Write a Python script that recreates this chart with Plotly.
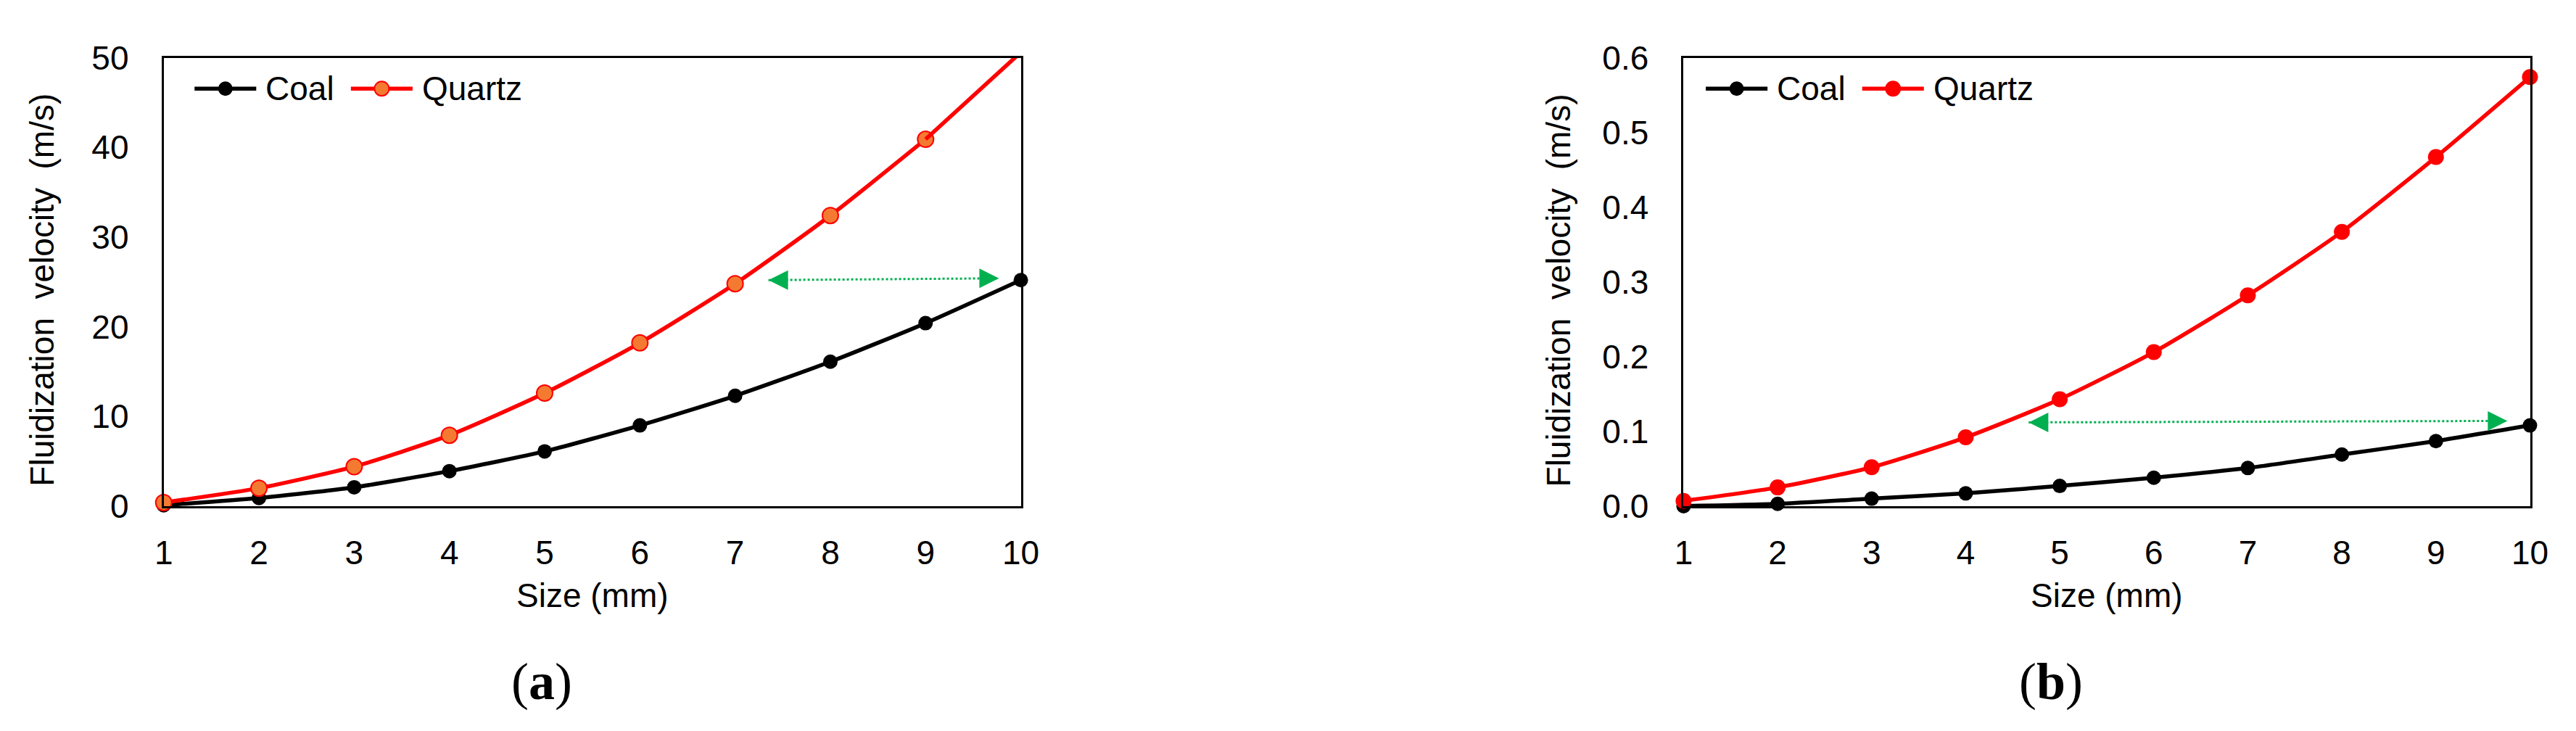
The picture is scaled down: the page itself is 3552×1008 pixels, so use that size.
import plotly.graph_objects as go

# particle size (mm)
sizes = [1, 2, 3, 4, 5, 6, 7, 8, 9, 10]

# (a) fluidization velocity, m/s
coal_a = [0.1, 0.9, 2.1, 3.9, 6.1, 9.0, 12.3, 16.1, 20.4, 25.2]
quartz_a = [0.4, 2.0, 4.4, 7.9, 12.6, 18.2, 24.8, 32.4, 40.9, 50.6]

# (b) fluidization velocity, m/s
coal_b = [0.0, 0.003, 0.010, 0.017, 0.027, 0.038, 0.051, 0.069, 0.087, 0.108]
quartz_b = [0.007, 0.025, 0.052, 0.092, 0.143, 0.206, 0.282, 0.367, 0.467, 0.574]

# green double arrows (start, end)
arrow_a_x = [7.35, 9.77]
arrow_a_y = [25.2, 25.4]
arrow_b_x = [4.67, 9.76]
arrow_b_y = [0.112, 0.114]

W, H = 3552, 1008
SANS = "Liberation Sans, Arial, sans-serif"
SERIF = "Liberation Serif, Times New Roman, serif"
GREEN = "#00B050"
RED = "#FF0000"
ORANGE = "#F47A32"


def px(x):
    return x / W


def py(y):
    return 1 - y / H


fig = go.Figure()

# panel (a)
fig.add_trace(go.Scatter(
    x=sizes, y=coal_a, name="Coal", mode="lines+markers",
    line=dict(color="black", width=5.5, shape="spline", smoothing=0.6),
    marker=dict(size=20, color="black"), cliponaxis=False,
    xaxis="x", yaxis="y", showlegend=False,
))
fig.add_trace(go.Scatter(
    x=sizes[:9], y=quartz_a[:9], name="Quartz", mode="lines+markers",
    line=dict(color=RED, width=5.5, shape="spline", smoothing=0.6),
    marker=dict(size=22, color=ORANGE, line=dict(color=RED, width=2)),
    cliponaxis=False, xaxis="x", yaxis="y", showlegend=False,
))
fig.add_trace(go.Scatter(
    x=sizes[8:], y=quartz_a[8:], mode="lines", showlegend=False,
    line=dict(color=RED, width=5.5), xaxis="x", yaxis="y",
))
fig.add_trace(go.Scatter(
    x=arrow_a_x, y=arrow_a_y, mode="lines", showlegend=False,
    line=dict(color=GREEN, width=3, dash="dot"), xaxis="x", yaxis="y",
))

# panel (b)
fig.add_trace(go.Scatter(
    x=sizes, y=coal_b, name="Coal", mode="lines+markers",
    line=dict(color="black", width=5.5, shape="spline", smoothing=0.6),
    marker=dict(size=20, color="black"), cliponaxis=False,
    xaxis="x2", yaxis="y2", showlegend=False,
))
fig.add_trace(go.Scatter(
    x=sizes, y=quartz_b, name="Quartz", mode="lines+markers",
    line=dict(color=RED, width=5.5, shape="spline", smoothing=0.6),
    marker=dict(size=22, color=RED), cliponaxis=False,
    xaxis="x2", yaxis="y2", showlegend=False,
))
fig.add_trace(go.Scatter(
    x=arrow_b_x, y=arrow_b_y, mode="lines", showlegend=False,
    line=dict(color=GREEN, width=3, dash="dot"), xaxis="x2", yaxis="y2",
))

axis_style = dict(
    showline=True, mirror=True, linewidth=3, linecolor="black",
    showgrid=False, zeroline=False, ticks="outside",
    tickcolor="rgba(0,0,0,0)", tickfont=dict(family=SANS, size=46, color="black"),
)

y_dom = [py(700), py(48)]
fig.update_layout(
    width=W, height=H,
    margin=dict(l=0, r=0, t=0, b=0),
    paper_bgcolor="white", plot_bgcolor="white",
    font=dict(family=SANS, color="black"),
    showlegend=False,
    xaxis=dict(domain=[px(207), px(1402)], range=[1, 10], dtick=1, ticklen=22, anchor="y", **axis_style),
    yaxis=dict(domain=y_dom, range=[0, 50], dtick=10, ticklen=36, anchor="x", **axis_style),
    xaxis2=dict(domain=[px(2326), px(3506)], range=[1, 10], dtick=1, ticklen=22, anchor="y2", **axis_style),
    yaxis2=dict(domain=y_dom, range=[0, 0.6], dtick=0.1, tickformat=".1f", ticklen=36, anchor="x2", **axis_style),
)

notes = []
shapes = []

# arrowheads at both ends of the green dotted arrows
for xs, ys, xr, yr in [(arrow_a_x, arrow_a_y, "x", "y"), (arrow_b_x, arrow_b_y, "x2", "y2")]:
    for i, back in [(0, 22), (1, -22)]:
        notes.append(dict(
            x=xs[i], y=ys[i], ax=back, ay=0, xref=xr, yref=yr,
            text="", font=dict(size=1), showarrow=True, arrowhead=2,
            arrowsize=1.8, arrowwidth=3, arrowcolor=GREEN,
        ))
n_arrow_notes = len(notes)

# legends drawn inside the top-left corner of each panel
title_font = dict(family=SANS, size=46, color="black")
legend_rows = [
    (250, [("Coal", "black", "black", "black", 18), ("Quartz", RED, ORANGE, RED, 20)]),
    (2357, [("Coal", "black", "black", "black", 18), ("Quartz", RED, RED, RED, 20)]),
]
for start, entries in legend_rows:
    x0 = start
    for name, lc, fc, mc, ms in entries:
        shapes.append(dict(type="line", xref="paper", yref="paper",
                           x0=px(x0), x1=px(x0 + 86), y0=py(93), y1=py(93),
                           line=dict(color=lc, width=5.5)))
        r = ms / 2
        shapes.append(dict(type="circle", xref="paper", yref="paper",
                           xsizemode="pixel", ysizemode="pixel",
                           xanchor=px(x0 + 43), yanchor=py(93),
                           x0=-r, x1=r, y0=-r, y1=r,
                           fillcolor=fc, line=dict(color=mc, width=2)))
        notes.append(dict(x=px(x0 + 97), y=py(93), text=name, font=title_font,
                          xanchor="left", yanchor="middle"))
        x0 += 218

# axis titles and panel captions
ytitle = "Fluidization  velocity  (m/s)"
notes += [
    dict(x=px(38), y=py(386), text=ytitle, textangle=-90, font=title_font,
         xanchor="center", yanchor="middle"),
    dict(x=px(2152), y=py(386), text=ytitle, textangle=-90, font=title_font,
         xanchor="center", yanchor="middle"),
    dict(x=px(805), y=py(830), text="Size (mm)", font=title_font,
         xanchor="center", yanchor="middle"),
    dict(x=px(2916), y=py(830), text="Size (mm)", font=title_font,
         xanchor="center", yanchor="middle"),
    dict(x=px(734), y=py(955), text="(<b>a</b>)", font=dict(family=SERIF, size=72, color="black"),
         xanchor="center", yanchor="middle"),
    dict(x=px(2838), y=py(955), text="(<b>b</b>)", font=dict(family=SERIF, size=72, color="black"),
         xanchor="center", yanchor="middle"),
]
for n in notes[n_arrow_notes:]:
    n.update(xref="paper", yref="paper", showarrow=False)
fig.update_layout(annotations=notes, shapes=shapes)

fig.write_html("out.html")
